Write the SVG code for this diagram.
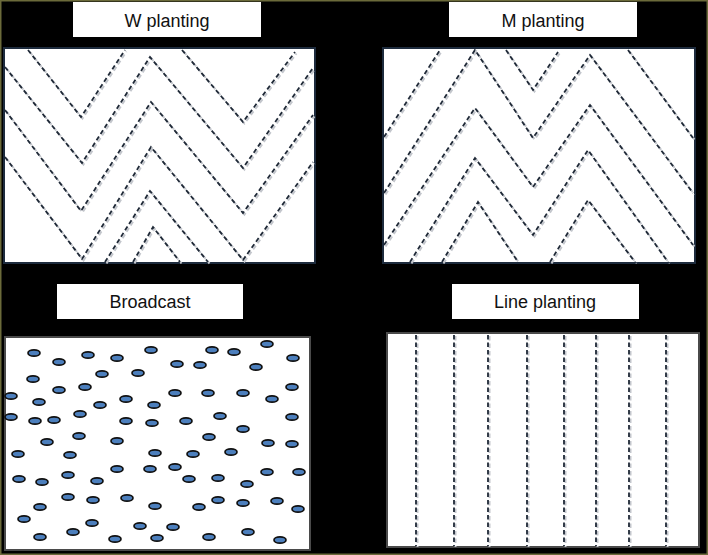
<svg xmlns="http://www.w3.org/2000/svg" xmlns:xlink="http://www.w3.org/1999/xlink" width="708" height="555" viewBox="0 0 708 555">
  <style>
    .bg { fill: #000; stroke: #6b6a3a; stroke-width: 1.5; }
    .panel { fill: #fff; stroke: #1d2b3d; stroke-width: 2; }
    .panel2 { fill: #fff; stroke: #4a4a4a; stroke-width: 2; }
    .label { fill: #fff; }
    .txt { font-family: "Liberation Sans", Arial, sans-serif; font-size: 18px; fill: #111; text-anchor: middle; }
    .row { fill: none; stroke: #1f2937; stroke-width: 1.8; stroke-dasharray: 4.5 3; }
    .shadow { fill: none; stroke: #c3c6cc; stroke-width: 2; stroke-dasharray: 4.5 3; }
    .seed { fill: #4c7fbd; stroke: #111; stroke-width: 1.7; }
  </style>
  <defs>
    <g id="w-rows">
      <path d="M28,50 L81,117 L125,50"/>
      <path d="M182,50 L243,122 L295,52"/>
      <path d="M5,67 L82,163 L150,57 L243,168 L313,68"/>
      <path d="M5,110 L81,211 L151,102 L243,213 L313,115"/>
      <path d="M5,157 L82,259 L151,147 L243,260 L313,162"/>
      <path d="M105,262 L150,191 L208,262"/>
      <path d="M133,262 L153,227 L180,262"/>
    </g>
    <g id="m-rows">
      <path d="M384,137 L440,50"/>
      <path d="M506,50 L533,90 L558,52"/>
      <path d="M628,50 L693,138"/>
      <path d="M384,193 L475,50 L533,138 L590,55 L693,193"/>
      <path d="M384,245 L475,108 L533,187 L590,105 L693,245"/>
      <path d="M410,262 L475,158 L533,235 L588,150 L668,262"/>
      <path d="M442,262 L478,202 L518,262"/>
      <path d="M550,262 L588,200 L635,262"/>
    </g>
    <g id="l-rows">
      <path d="M416,335 V546"/>
      <path d="M454,335 V546"/>
      <path d="M488,335 V546"/>
      <path d="M527,335 V546"/>
      <path d="M564,335 V546"/>
      <path d="M596,335 V546"/>
      <path d="M629,335 V546"/>
      <path d="M666,335 V546"/>
    </g>
  </defs>

  <rect class="bg" x="0.75" y="0.75" width="706.5" height="553.5"/>

  <g id="w-planting">
    <rect class="label" x="73" y="2" width="188" height="35"/>
    <text class="txt" x="167" y="27">W planting</text>
    <rect class="panel" x="4" y="48" width="311" height="215"/>
    <use href="#w-rows" xlink:href="#w-rows" class="shadow" transform="translate(1.5,1.5)"/>
    <use href="#w-rows" xlink:href="#w-rows" class="row"/>
  </g>

  <g id="m-planting">
    <rect class="label" x="449" y="2" width="188" height="35"/>
    <text class="txt" x="543" y="27">M planting</text>
    <rect class="panel" x="383" y="48" width="312" height="215"/>
    <use href="#m-rows" xlink:href="#m-rows" class="shadow" transform="translate(1.5,1.5)"/>
    <use href="#m-rows" xlink:href="#m-rows" class="row"/>
  </g>

  <g id="broadcast">
    <rect class="label" x="57" y="284" width="186" height="35"/>
    <text class="txt" x="150" y="308">Broadcast</text>
    <rect class="panel2" x="5" y="337" width="305" height="213"/>
    <g>
      <ellipse class="seed" cx="34" cy="353" rx="6" ry="3.2"/>
      <ellipse class="seed" cx="59" cy="362" rx="6" ry="3.2"/>
      <ellipse class="seed" cx="88" cy="355" rx="6" ry="3.2"/>
      <ellipse class="seed" cx="117" cy="358" rx="6" ry="3.2"/>
      <ellipse class="seed" cx="151" cy="350" rx="6" ry="3.2"/>
      <ellipse class="seed" cx="212" cy="350" rx="6" ry="3.2"/>
      <ellipse class="seed" cx="234" cy="352" rx="6" ry="3.2"/>
      <ellipse class="seed" cx="267" cy="344" rx="6" ry="3.2"/>
      <ellipse class="seed" cx="293" cy="358" rx="6" ry="3.2"/>
      <ellipse class="seed" cx="177" cy="364" rx="6" ry="3.2"/>
      <ellipse class="seed" cx="200" cy="365" rx="6" ry="3.2"/>
      <ellipse class="seed" cx="256" cy="367" rx="6" ry="3.2"/>
      <ellipse class="seed" cx="33" cy="379" rx="6" ry="3.2"/>
      <ellipse class="seed" cx="102" cy="374" rx="6" ry="3.2"/>
      <ellipse class="seed" cx="138" cy="373" rx="6" ry="3.2"/>
      <ellipse class="seed" cx="59" cy="390" rx="6" ry="3.2"/>
      <ellipse class="seed" cx="85" cy="387" rx="6" ry="3.2"/>
      <ellipse class="seed" cx="11" cy="396" rx="6" ry="3.2"/>
      <ellipse class="seed" cx="39" cy="402" rx="6" ry="3.2"/>
      <ellipse class="seed" cx="100" cy="405" rx="6" ry="3.2"/>
      <ellipse class="seed" cx="126" cy="399" rx="6" ry="3.2"/>
      <ellipse class="seed" cx="154" cy="405" rx="6" ry="3.2"/>
      <ellipse class="seed" cx="175" cy="393" rx="6" ry="3.2"/>
      <ellipse class="seed" cx="208" cy="393" rx="6" ry="3.2"/>
      <ellipse class="seed" cx="243" cy="393" rx="6" ry="3.2"/>
      <ellipse class="seed" cx="272" cy="399" rx="6" ry="3.2"/>
      <ellipse class="seed" cx="292" cy="387" rx="6" ry="3.2"/>
      <ellipse class="seed" cx="11" cy="417" rx="6" ry="3.2"/>
      <ellipse class="seed" cx="35" cy="421" rx="6" ry="3.2"/>
      <ellipse class="seed" cx="54" cy="420" rx="6" ry="3.2"/>
      <ellipse class="seed" cx="80" cy="414" rx="6" ry="3.2"/>
      <ellipse class="seed" cx="126" cy="421" rx="6" ry="3.2"/>
      <ellipse class="seed" cx="152" cy="423" rx="6" ry="3.2"/>
      <ellipse class="seed" cx="186" cy="421" rx="6" ry="3.2"/>
      <ellipse class="seed" cx="220" cy="416" rx="6" ry="3.2"/>
      <ellipse class="seed" cx="243" cy="429" rx="6" ry="3.2"/>
      <ellipse class="seed" cx="292" cy="417" rx="6" ry="3.2"/>
      <ellipse class="seed" cx="47" cy="442" rx="6" ry="3.2"/>
      <ellipse class="seed" cx="79" cy="436" rx="6" ry="3.2"/>
      <ellipse class="seed" cx="117" cy="441" rx="6" ry="3.2"/>
      <ellipse class="seed" cx="209" cy="437" rx="6" ry="3.2"/>
      <ellipse class="seed" cx="268" cy="443" rx="6" ry="3.2"/>
      <ellipse class="seed" cx="292" cy="444" rx="6" ry="3.2"/>
      <ellipse class="seed" cx="18" cy="454" rx="6" ry="3.2"/>
      <ellipse class="seed" cx="70" cy="455" rx="6" ry="3.2"/>
      <ellipse class="seed" cx="155" cy="453" rx="6" ry="3.2"/>
      <ellipse class="seed" cx="193" cy="454" rx="6" ry="3.2"/>
      <ellipse class="seed" cx="231" cy="452" rx="6" ry="3.2"/>
      <ellipse class="seed" cx="117" cy="469" rx="6" ry="3.2"/>
      <ellipse class="seed" cx="150" cy="469" rx="6" ry="3.2"/>
      <ellipse class="seed" cx="175" cy="467" rx="6" ry="3.2"/>
      <ellipse class="seed" cx="19" cy="479" rx="6" ry="3.2"/>
      <ellipse class="seed" cx="42" cy="482" rx="6" ry="3.2"/>
      <ellipse class="seed" cx="68" cy="475" rx="6" ry="3.2"/>
      <ellipse class="seed" cx="97" cy="481" rx="6" ry="3.2"/>
      <ellipse class="seed" cx="189" cy="479" rx="6" ry="3.2"/>
      <ellipse class="seed" cx="218" cy="478" rx="6" ry="3.2"/>
      <ellipse class="seed" cx="247" cy="484" rx="6" ry="3.2"/>
      <ellipse class="seed" cx="267" cy="472" rx="6" ry="3.2"/>
      <ellipse class="seed" cx="299" cy="472" rx="6" ry="3.2"/>
      <ellipse class="seed" cx="68" cy="497" rx="6" ry="3.2"/>
      <ellipse class="seed" cx="93" cy="500" rx="6" ry="3.2"/>
      <ellipse class="seed" cx="127" cy="498" rx="6" ry="3.2"/>
      <ellipse class="seed" cx="40" cy="507" rx="6" ry="3.2"/>
      <ellipse class="seed" cx="155" cy="506" rx="6" ry="3.2"/>
      <ellipse class="seed" cx="199" cy="507" rx="6" ry="3.2"/>
      <ellipse class="seed" cx="218" cy="500" rx="6" ry="3.2"/>
      <ellipse class="seed" cx="243" cy="503" rx="6" ry="3.2"/>
      <ellipse class="seed" cx="277" cy="501" rx="6" ry="3.2"/>
      <ellipse class="seed" cx="298" cy="509" rx="6" ry="3.2"/>
      <ellipse class="seed" cx="24" cy="519" rx="6" ry="3.2"/>
      <ellipse class="seed" cx="92" cy="523" rx="6" ry="3.2"/>
      <ellipse class="seed" cx="140" cy="526" rx="6" ry="3.2"/>
      <ellipse class="seed" cx="173" cy="527" rx="6" ry="3.2"/>
      <ellipse class="seed" cx="40" cy="537" rx="6" ry="3.2"/>
      <ellipse class="seed" cx="73" cy="532" rx="6" ry="3.2"/>
      <ellipse class="seed" cx="115" cy="539" rx="6" ry="3.2"/>
      <ellipse class="seed" cx="157" cy="538" rx="6" ry="3.2"/>
      <ellipse class="seed" cx="209" cy="537" rx="6" ry="3.2"/>
      <ellipse class="seed" cx="248" cy="532" rx="6" ry="3.2"/>
      <ellipse class="seed" cx="280" cy="540" rx="6" ry="3.2"/>
    </g>
  </g>

  <g id="line-planting">
    <rect class="label" x="452" y="284" width="187" height="35"/>
    <text class="txt" x="545" y="308">Line planting</text>
    <rect class="panel2" x="387" y="333" width="312" height="214"/>
    <use href="#l-rows" xlink:href="#l-rows" class="shadow" transform="translate(1.5,1)"/>
    <use href="#l-rows" xlink:href="#l-rows" class="row"/>
  </g>
</svg>
